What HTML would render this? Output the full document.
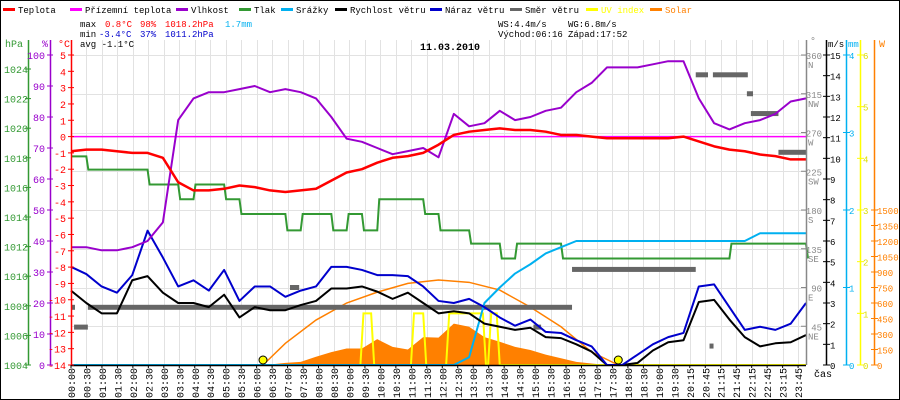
<!DOCTYPE html>
<html><head><meta charset="utf-8"><style>
html,body{margin:0;padding:0;background:#fff}
#wrap{position:relative;width:900px;height:400px;overflow:hidden}
svg text{font-family:"Liberation Mono",monospace;font-size:10px}
svg text.sm{font-size:9px}
</style></head><body>
<div id="wrap">
<svg id="chart" width="900" height="400" xmlns="http://www.w3.org/2000/svg"></svg>
</div>
<script>
// ---- data arrays (half-hour samples 00:00..24:00) ----
const timeLabels=["00:00","00:30","01:00","01:30","02:00","02:30","03:00","03:30","04:00","04:30","05:00","05:30","06:00","06:30","07:00","07:30","08:00","08:30","09:00","09:30","10:00","10:30","11:00","11:30","12:00","12:30","13:00","13:30","14:00","14:30","15:00","15:30","16:00","16:30","17:00","17:30","18:00","18:30","19:00","19:30","20:15","20:45","21:15","21:45","22:15","22:45","23:15","23:45"];
const temp=[-0.9,-0.8,-0.8,-0.9,-1.0,-1.0,-1.3,-2.8,-3.3,-3.3,-3.2,-3.0,-3.1,-3.3,-3.4,-3.3,-3.2,-2.7,-2.2,-2.0,-1.6,-1.3,-1.2,-1.0,-0.5,0.1,0.3,0.4,0.5,0.4,0.4,0.3,0.1,0.1,0.0,-0.1,-0.1,-0.1,-0.1,-0.1,0.0,-0.3,-0.6,-0.8,-0.9,-1.1,-1.2,-1.4,-1.4];
const feels=[0,0,0,0,0,0,0,0,0,0,0,0,0,0,0,0,0,0,0,0,0,0,0,0,0,0,0,0,0,0,0,0,0,0,0,0,0,0,0,0,0,0,0,0,0,0,0,0,0];
const humid=[38,38,37,37,38,40,46,79,86,88,88,89,90,88,89,88,86,80,73,72,70,68,69,70,67,81,77,78,82,79,80,82,83,88,91,96,96,96,97,98,98,86,78,76,78,79,81,85,86];
const press=[1018.1,1017.2,1017.2,1017.2,1017.2,1016.2,1016.2,1015.2,1016.2,1016.2,1015.2,1014.2,1014.2,1014.2,1013.1,1014.2,1014.2,1013.1,1014.2,1013.1,1015.2,1015.2,1015.2,1014.2,1013.1,1013.1,1012.2,1012.2,1011.2,1012.2,1012.2,1012.2,1011.2,1011.2,1011.2,1011.2,1011.2,1011.2,1011.2,1011.2,1011.2,1011.2,1011.2,1012.2,1012.2,1012.2,1012.2,1012.2,1011.2];
const rain=[0,0,0,0,0,0,0,0,0,0,0,0,0,0,0,0,0,0,0,0,0,0,0,0,0,0,0.1,0.8,1.0,1.18,1.3,1.44,1.52,1.6,1.6,1.6,1.6,1.6,1.6,1.6,1.6,1.6,1.6,1.6,1.6,1.7,1.7,1.7,1.7];
const windSpeed=[3.6,3.0,2.5,2.5,4.1,4.3,3.5,3.0,3.0,2.8,3.4,2.3,2.8,2.65,2.65,2.9,3.1,3.7,3.7,3.8,3.55,3.2,3.5,3.0,2.5,2.6,2.5,2.0,1.85,1.7,1.8,1.35,1.3,1.0,0.65,0,0,0.1,0.7,1.1,1.2,3.05,3.15,2.2,1.35,0.9,1.05,1.1,1.45];
const windGust=[4.75,4.4,3.8,3.5,4.35,6.5,5.2,3.8,4.1,3.6,4.6,3.1,3.8,3.8,3.3,3.6,3.8,4.75,4.75,4.6,4.35,4.35,4.3,3.8,3.1,3.0,3.2,2.8,2.3,1.9,2.2,1.6,1.55,1.2,0.9,0,0,0.5,1.0,1.35,1.55,3.8,3.9,2.8,1.7,1.85,1.7,2.0,3.0];
const solar=[0,0,0,0,0,0,0,0,0,0,0,0,0,5,20,30,80,125,160,160,250,175,150,270,265,400,370,270,225,175,145,100,65,30,15,0,0,0,0,0,0,0,0,0,0,0,0,0,0];
const clearHours=[6.27,7,8,9,10,11,12,13,14,15,16,17,17.87];
const clearSky=[0,210,435,600,705,790,822,800,725,560,370,125,0];
const uvHours=[0,9.45,9.55,9.8,9.9,11.1,11.2,11.5,11.6,12.25,12.35,13.45,13.55,13.62,13.72,13.9,14.0,24];
const uvIndex=[0,0,1,1,0,0,1,1,0,0,1,1,0,0,1,1,0,0];
const dirStart=[0,0.1,0.55,7.15,15.1,16.36,20.4,20.85,20.96,22.07,22.2,23.1];
const dirEnd=[0.12,0.55,16.36,7.45,15.35,20.4,20.8,20.95,22.1,22.27,23.1,24];
const dirDeg=[67,44,67,90,44,111,337,22,337,315,292,247];
const sunEvents=[6.27,17.87];

// ---- scales ----
const X0=71,X1=806,YT=55,YB=365;
const xT=h=>X0+h*(X1-X0)/24;
const xI=i=>xT(i*0.5);
const yTemp=v=>YT+(5-v)*(YB-YT)/19;
const yHum=v=>YB-v*(YB-YT)/100;
const yPress=v=>YB-(v-1004)*14.8;
const yWind=v=>YB-v*(YB-YT)/15;
const yRain=v=>YB-v*(YB-YT)/4;
const yUV=v=>YB-v*(YB-YT)/6;
const ySol=v=>YB-v*(YB-YT)/3000;
const yDeg=v=>YB-v*(YB-YT)/360;

const svg=document.getElementById('chart');
const NS='http://www.w3.org/2000/svg';
function mk(tag,attrs,parent){const e=document.createElementNS(NS,tag);for(const k in attrs)e.setAttribute(k,attrs[k]);(parent||svg).appendChild(e);return e;}
function txt(s,x,y,fill,anchor,extra){const t=mk('text',Object.assign({x:x,y:y,fill:fill,'text-anchor':anchor||'start'},extra||{}));t.textContent=s;return t;}
function stxt(s,x,y,fill,anchor){return txt(s,x,y,fill,anchor||'start',{'class':'sm'});}

// border
let e=mk('rect',{x:0.5,y:0.5,width:899,height:399,fill:'#fff',stroke:'#000'});



// grid
const grid=mk('g',{stroke:'#e2e2e2','stroke-width':1});


for(let k=0;k<timeLabels.length;k++){const x=Math.round(X0+k*15.47)+0.5;mk('line',{x1:x,y1:40,x2:x,y2:YB},grid);}
for(let d=0;d<=360;d+=45){const y=Math.round(yDeg(d))+0.5;mk('line',{x1:X0,y1:y,x2:X1,y2:y},grid);}

// solar area
let sp='M'+xI(0)+','+YB;solar.forEach((v,i)=>sp+=' L'+xI(i)+','+ySol(v));sp+=' L'+xI(solar.length-1)+','+YB+'Z';
e=mk('path',{d:sp,fill:'#ff8000',stroke:'none'});


// clear sky curve
e=mk('polyline',{points:clearHours.map((h,i)=>xT(h)+','+ySol(clearSky[i])).join(' '),fill:'none',stroke:'#ff8000','stroke-width':1.5});



function line(vals,yf,color,name,w){const pts=vals.map((v,i)=>xI(i)+','+yf(v)).join(' ');const l=mk('polyline',{points:pts,fill:'none',stroke:color,'stroke-width':w||2,'stroke-linejoin':'round'});return l;}
function stepLine(vals,yf,color,name){let p='M'+xI(0)+','+yf(vals[0]);for(let i=1;i<vals.length;i++){p+=' L'+xI(i)+','+yf(vals[i-1])+' L'+(xI(i)+2)+','+yf(vals[i]);}const l=mk('path',{d:p,fill:'none',stroke:color,'stroke-width':2});return l;}

// wind direction
const dg=mk('g',{});


dirDeg.forEach((d,i)=>{const r=mk('rect',{x:xT(dirStart[i]),y:yDeg(d)-2.5,width:Math.max(4,xT(dirEnd[i])-xT(dirStart[i])),height:5,fill:'#666'},dg);

});

// UV
e=mk('polyline',{points:uvHours.map((h,i)=>xT(h)+','+yUV(uvIndex[i])).join(' '),fill:'none',stroke:'#ffff00','stroke-width':2});



stepLine(press,yPress,'#339933','pressure-line');
line(rain,yRain,'#00b0f0','rain-line');
line(windSpeed,yWind,'#000','wind-speed-line');
line(windGust,yWind,'#0000cc','wind-gust-line');
line(feels,yTemp,'#ff00ff','feels-like-line',1.5);
line(humid,yHum,'#9900cc','humidity-line');
line(temp,yTemp,'#ff0000','temperature-line',2.5);

// sunrise / sunset dots
sunEvents.forEach(h=>{const c=mk('circle',{cx:xT(h),cy:360,r:4,fill:'#ffff00',stroke:'#000','stroke-width':1});

});

// baseline
e=mk('line',{x1:X0,y1:YB+0.5,x2:X1,y2:YB+0.5,stroke:'#000','stroke-width':1.5});



// left axes
function vaxis(x,color,y0,y1,name){const l=mk('line',{x1:x,y1:y0,x2:x,y2:y1,stroke:color,'stroke-width':1.5});}
vaxis(28.5,'#339933',40,YB,'pressure-axis');
vaxis(50.5,'#9900cc',40,YB,'humidity-axis');
vaxis(71.5,'#ff0000',40,YB,'temperature-axis');
txt('hPa',5,47,'#339933');txt('%',42,47,'#9900cc');txt('°C',58,47,'#ff0000');
for(let p=1004;p<=1024;p+=2){const y=yPress(p);mk('line',{x1:25,y1:y,x2:31,y2:y,stroke:'#339933'});txt(String(p),4,y+4,'#339933');}
for(let h=0;h<=100;h+=10){const y=yHum(h);mk('line',{x1:47,y1:y,x2:53,y2:y,stroke:'#9900cc'});txt(String(h),45,y+4,'#9900cc','end');}
for(let t=-14;t<=5;t++){const y=yTemp(t);mk('line',{x1:68,y1:y,x2:74,y2:y,stroke:'#ff0000'});txt(String(t),66,y+4,'#ff0000','end');}

// right axes
vaxis(806.5,'#888',40,YB,'direction-axis');
vaxis(826.5,'#000',40,YB,'wind-speed-axis');
vaxis(846.5,'#00b0f0',40,YB,'rain-axis');
vaxis(860.5,'#ffff00',40,YB,'uv-axis');
vaxis(874.5,'#ff8000',40,YB,'solar-axis');
txt('°',810,44,'#888');stxt('m/s',828,47,'#000');stxt('mm',848,47,'#00b0f0');txt('W',879,47,'#ff8000');
const dirNames=['','NE','E','SE','S','SW','W','NW','N'];
for(let d=45;d<=360;d+=45){const y=yDeg(d);mk('line',{x1:801,y1:y,x2:806,y2:y,stroke:'#888'});stxt(String(d),822,y+4,'#888','end');stxt(dirNames[d/45],808,y+13,'#888');}
for(let v=0;v<=15;v++){const y=yWind(v);mk('line',{x1:823,y1:y,x2:830,y2:y,stroke:'#000'});stxt(String(v),830,y+4,'#000');}
for(let v=0;v<=4;v++){const y=yRain(v);mk('line',{x1:843,y1:y,x2:850,y2:y,stroke:'#00b0f0'});stxt(String(v),849,y+4,'#00b0f0');}
for(let v=0;v<=6;v++){const y=yUV(v);mk('line',{x1:857,y1:y,x2:864,y2:y,stroke:'#ffff00'});stxt(String(v),863,y+4,'#dddd00');}
for(let v=0;v<=1500;v+=150){const y=ySol(v);mk('line',{x1:871,y1:y,x2:878,y2:y,stroke:'#ff8000'});stxt(String(v),877,y+4,'#ff8000');}

// time labels
timeLabels.forEach((s,k)=>{const x=X0+k*15.47;mk('line',{x1:x,y1:YB,x2:x,y2:YB+3,stroke:'#000'});
const t=txt(s,0,0,'#000','end',{transform:'translate('+(x+4)+',368) rotate(-90)'});

});
txt('čas',814,377,'#000');

// title & stats
e=txt('11.03.2010',450,50,'#000','middle',{'font-size':'14','font-weight':'bold'});


stxt('max',80,27,'#000');stxt('0.8°C',105,27,'#ff0000');stxt('98%',140,27,'#ff0000');stxt('1018.2hPa',165,27,'#ff0000');stxt('1.7mm',225,27,'#00b0f0');
stxt('min',80,37,'#000');stxt('-3.4°C',99,37,'#0000cc');stxt('37%',140,37,'#0000cc');stxt('1011.2hPa',165,37,'#0000cc');
stxt('avg -1.1°C',80,47,'#000');
stxt('WS:4.4m/s',498,27,'#000');stxt('WG:6.8m/s',568,27,'#000');
stxt('Východ:06:16',498,37,'#000');stxt('Západ:17:52',568,37,'#000');

// legend
const legNames=['Teplota','Přízemní teplota','Vlhkost','Tlak','Srážky','Rychlost větru','Náraz větru','Směr větru','UV index','Solar'];
const legColors=['#ff0000','#ff00ff','#9900cc','#339933','#00b0f0','#000','#0000cc','#666','#ffff00','#ff8000'];
const legX=[3,70,176,239,281,335,430,510,586,650];
legNames.forEach((n,i)=>{const g=mk('g',{});


mk('rect',{x:legX[i],y:8,width:12,height:3,fill:legColors[i]},g);
const t=mk('text',{x:legX[i]+15,y:13,'class':'sm',fill:i>=8?legColors[i]:'#000'},g);t.textContent=n;});
</script>
</body></html>
